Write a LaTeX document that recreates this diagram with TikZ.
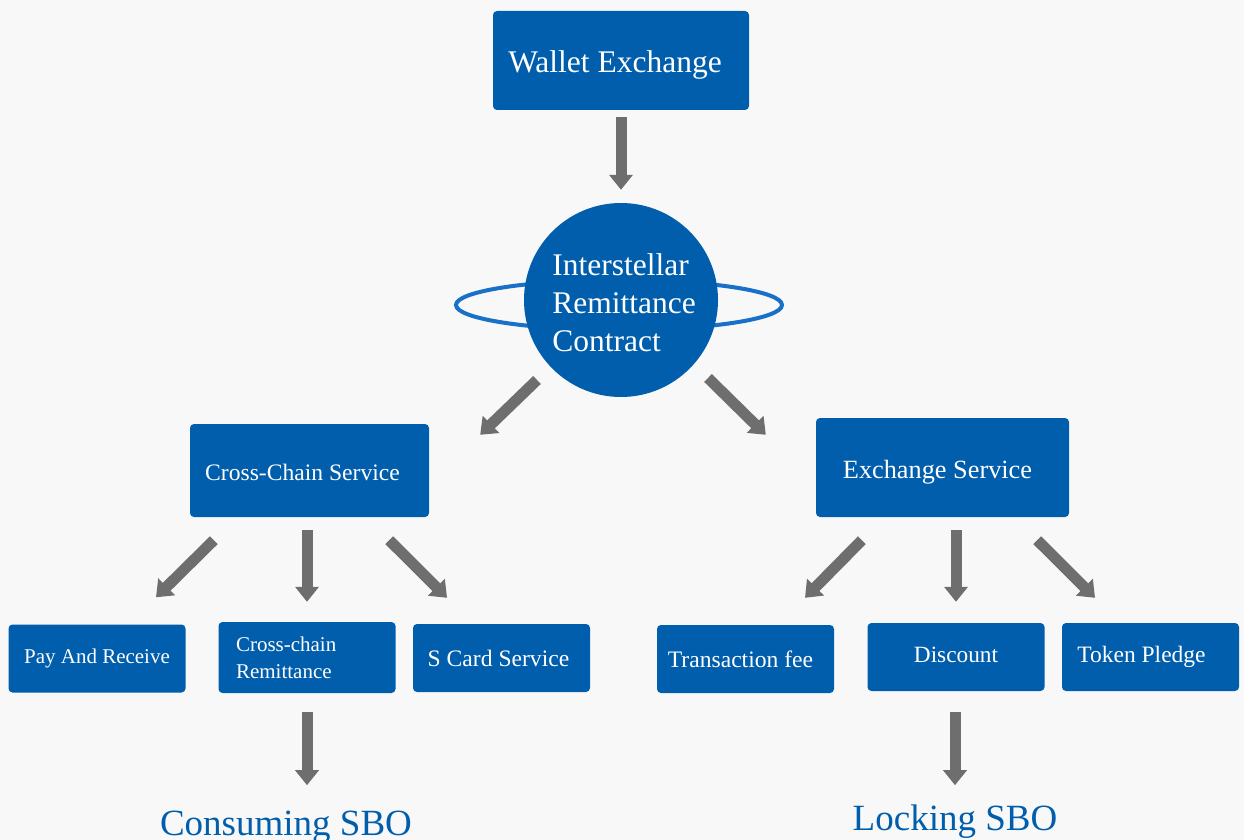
\documentclass[tikz,border=0pt]{standalone}
\usepackage{fontspec}
\setmainfont{Liberation Serif}
\usetikzlibrary{arrows.meta}
\definecolor{boxblue}{RGB}{0,94,172}
\definecolor{ringblue}{RGB}{24,112,200}
\definecolor{arrowgrey}{RGB}{110,110,110}
\definecolor{bggrey}{RGB}{248,248,248}
\newcommand\lowered[2]{\raisebox{-#1}[\height][\depth]{#2}}
\tikzset{
  box/.style={fill=boxblue, rounded corners=4pt, text=white, inner sep=0pt, align=center},
  smallbox/.style={box, minimum width=177pt, minimum height=68pt},
  flow/.style={draw=arrowgrey, line width=11pt, -{Triangle[width=23pt,length=15pt]}},
  ring/.style={draw=ringblue, line width=4pt},
  sbo/.style={text=boxblue, anchor=base, font=\fontsize{37}{44}\selectfont},
}

\begin{document}
\begin{tikzpicture}[x=1pt,y=-1pt]
\useasboundingbox[fill=bggrey] (0,0) rectangle (1244,840);
%Shape: Ellipse [ring behind the contract]
\draw[ring] (619,305) ellipse [x radius=163, y radius=25];
% Top
\node[box, minimum width=256pt, minimum height=99pt, font=\fontsize{31.5}{38}\selectfont] (wallet) at (621,60.5) {\lowered{4pt}{Wallet Exchange\hspace{12pt}}};
\node[circle, fill=boxblue, text=white, minimum size=194pt, inner sep=0pt, font=\fontsize{31.5}{38}\selectfont] (irc) at (621,300) {\lowered{6pt}{\begin{tabular}{@{\hspace{6pt}}l@{}}Interstellar\\Remittance\\Contract\end{tabular}}};
% Services
\node[box, minimum width=239pt, minimum height=93pt, font=\fontsize{23.6}{28}\selectfont] (cross) at (309.5,470.5) {\lowered{2pt}{Cross-Chain Service\hspace{14pt}}};
\node[box, minimum width=253pt, minimum height=99pt, font=\fontsize{26.3}{31}\selectfont] (exch) at (942.5,467.5) {\lowered{5pt}{Exchange Service\hspace{10pt}}};
% Bottom row
\node[smallbox, font=\fontsize{21}{25}\selectfont] (pay) at (97,658.5) {Pay And Receive};
\node[smallbox, minimum height=71pt, text width=142pt, inner xsep=17pt, align=left, font=\fontsize{21}{27}\selectfont] (ccr) at (307,657.5) {Cross-chain\\Remittance};
\node[smallbox, font=\fontsize{23.6}{28}\selectfont] (scard) at (501.5,658) {S Card Service\hspace{6pt}};
\node[smallbox, font=\fontsize{23.6}{28}\selectfont] (txfee) at (745.5,659) {Transaction fee\hspace{10pt}};
\node[smallbox, font=\fontsize{23.3}{28}\selectfont] (disc) at (956,657) {\lowered{-2pt}{Discount}};
\node[smallbox, font=\fontsize{23.5}{28}\selectfont] (token) at (1150.5,657) {Token Pledge\hspace{18pt}};
% Results
\node[sbo] (consume) at (286,835) {Consuming SBO};
\node[sbo] (lock) at (955,830) {Locking SBO};
% Arrows
\draw[flow, shorten <=7pt, shorten >=13pt] (wallet) -- (irc);
\draw[flow] ([shift={(-84,80)}]irc.center) -- ([shift={(51,11)}]cross.north east);
\draw[flow] ([shift={(87,78)}]irc.center) -- ([shift={(-50,17)}]exch.north west);
\draw[flow] ([shift={(24,23)}]cross.south west) -- ([shift={(59,-27)}]pay.north);
\draw[flow] ([shift={(-2.5,13)}]cross.south) -- ([shift={(0,-20)}]ccr.north);
\draw[flow] ([shift={(-40,23)}]cross.south east) -- ([shift={(-54.5,-26)}]scard.north);
\draw[flow] ([shift={(46,23)}]exch.south west) -- ([shift={(59.5,-27)}]txfee.north);
\draw[flow] ([shift={(13.5,13)}]exch.south) -- ([shift={(0,-21)}]disc.north);
\draw[flow] ([shift={(-32,23)}]exch.south east) -- ([shift={(-55.5,-25)}]token.north);
\draw[flow] ([shift={(0,19)}]ccr.south) -- ++(0,73);
\draw[flow] ([shift={(-1,21)}]disc.south) -- ++(0,73);
\end{tikzpicture}
\end{document}
